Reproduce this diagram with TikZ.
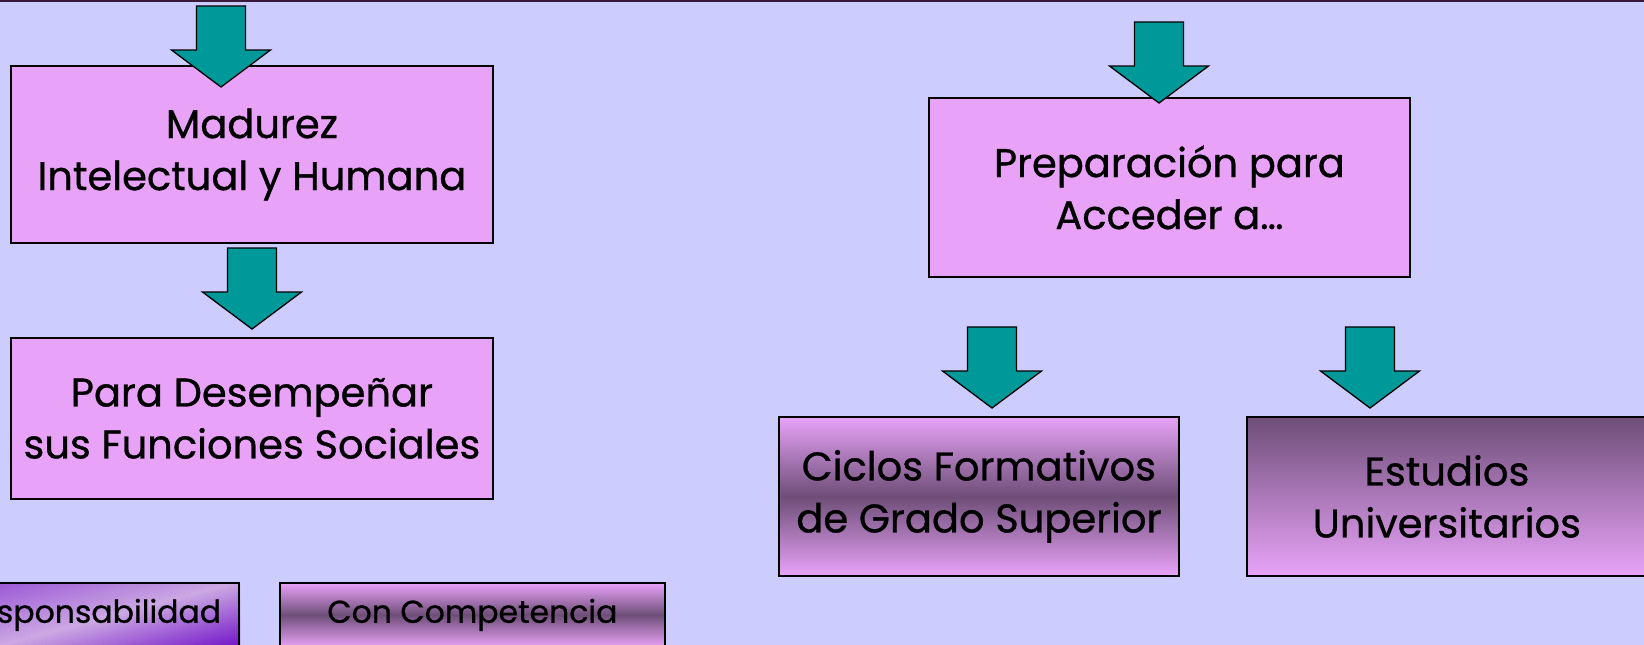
\documentclass[tikz,border=0pt]{standalone}
\usepackage{fontspec}
\setmainfont{Poppins}[FakeBold=0.8]
\definecolor{bgc}{HTML}{CCCCFF}
\definecolor{boxc}{HTML}{E8A3F8}
\definecolor{tealc}{HTML}{009999}
\definecolor{darkc}{HTML}{6E4E78}
\definecolor{lilac}{HTML}{CCA8E4}
\definecolor{deep}{HTML}{7010C8}
\definecolor{topline}{HTML}{3A1A3A}
\tikzset{
  box/.style={draw=black, line width=1.8pt, fill=boxc, align=center, inner sep=0pt,
    font=\fontsize{40}{52}\selectfont},
  smallbox/.style={draw=black, line width=1.8pt, align=center, inner sep=0pt,
    font=\fontsize{31.5}{36}\selectfont},
  downarrow/.pic={\draw[fill=tealc, line width=1.3pt, line join=miter]
    (-24.5,-81) -- (24.5,-81) -- (24.5,-37) -- (49.5,-37) -- (0,0) -- (-49.5,-37) -- (-24.5,-37) -- cycle;}
}
\begin{document}
\begin{tikzpicture}[x=1pt,y=-1pt]
\fill[bgc] (0,0) rectangle (1644,645);
\useasboundingbox (0,0) rectangle (1644,645);
\draw[topline, line width=2.5pt] (-5,1) -- (1650,1);
% boxes
\node[box, anchor=north west, minimum width=482, minimum height=177] (b1) at (10,65) {Madurez\\Intelectual y Humana};
\node[box, anchor=north west, minimum width=482, minimum height=161] (b2) at (10,337) {Para Desempeñar\\sus Funciones Sociales};
\node[box, anchor=north west, minimum width=481, minimum height=179] (b3) at (928,97) {Preparación para\\Acceder a…};
\node[box, anchor=north west, minimum width=400, minimum height=159, top color=boxc, bottom color=boxc, middle color=darkc] (b4) at (778,416) {Ciclos Formativos\\de Grado Superior};
\node[box, anchor=north west, minimum width=400, minimum height=159, top color=darkc, bottom color=boxc] (b5) at (1246,416) {Estudios\\Universitarios};
% diagonal shading of the clipped box, drawn as thin strips
\begin{scope}
  \clip (-145,582) rectangle (240,646);
  \fill[deep] (-145,582) rectangle (240,646);
  \begin{scope}[shift={(120,613)}, rotate=15]
    \foreach \t in {-66,-64,...,64}{
      \pgfmathtruncatemacro\p{\t<0 ? -\t*55/64 : \t*100/64}
      \ifnum\p>100 \def\p{100}\fi
      \fill[deep!\p!lilac] (-420,\t) rectangle (420,\t+2.4);
    }
  \end{scope}
\end{scope}
\node[smallbox, anchor=north east, minimum width=385, minimum height=64, text width=349, align=right] (b6) at (240,582) {Responsabilidad};
\node[smallbox, anchor=north west, minimum width=385, minimum height=64, top color=boxc, bottom color=boxc, middle color=darkc] (b7) at (279,582) {Con Competencia};
% arrows
\pic at (221,87) {downarrow};
\pic at (252,329) {downarrow};
\pic at (1159,103) {downarrow};
\pic at (992,408) {downarrow};
\pic at (1370,408) {downarrow};
\end{tikzpicture}
\end{document}
